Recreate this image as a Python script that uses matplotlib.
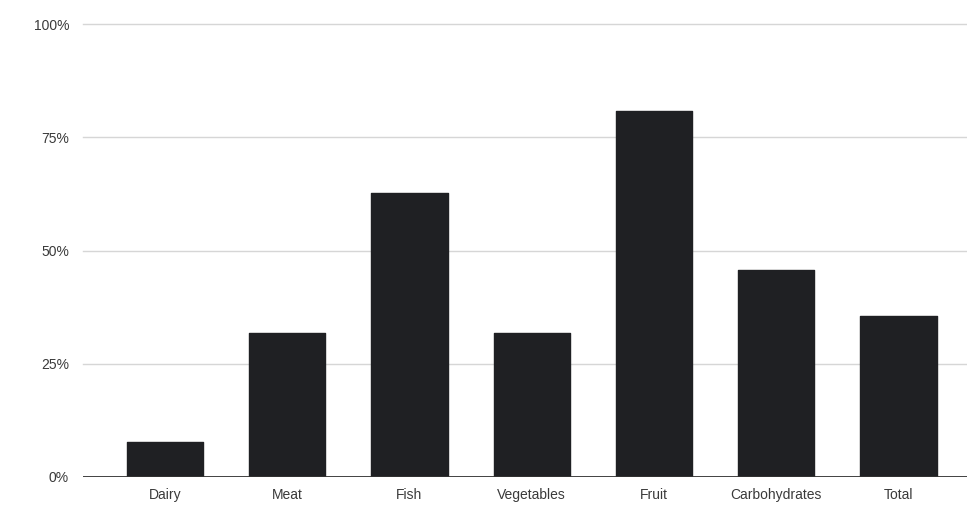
import matplotlib
matplotlib.use("Agg")
import matplotlib.pyplot as plt
from matplotlib.ticker import FuncFormatter

categories = ["Dairy", "Meat", "Fish", "Vegetables", "Fruit", "Carbohydrates", "Total"]
values = [7.7, 31.8, 62.7, 31.8, 80.8, 45.7, 35.5]
yticks = [0, 25, 50, 75, 100]

plt.rcParams['font.family'] = ['Liberation Sans', 'DejaVu Sans']

fig = plt.figure(figsize=(9.67, 5.09), dpi=100)
ax = fig.add_axes([83/967, 32/509, 1 - 83/967, (477-24)/509])

x = list(range(len(categories)))
ax.bar(x, values, width=0.625, color='#1f2023', edgecolor='#1f2023',
       linewidth=1.0, joinstyle='round', zorder=3)

ax.set_xlim(-0.67, 6.56)
ax.set_ylim(0, 100)
ax.set_yticks(yticks)
ax.yaxis.set_major_formatter(FuncFormatter(lambda v, p: f"{int(v)}%"))
ax.set_xticks(x)
ax.set_xticklabels(categories)

for t in yticks[1:]:
    ax.axhline(t, color='#d6d6d6', linewidth=1.0, zorder=1, clip_on=False)
ax.axhline(0, color='#333333', linewidth=1.3, zorder=4)

for s in ax.spines.values():
    s.set_visible(False)
ax.tick_params(axis='both', length=0, labelsize=10, colors='#3a3a3a')
ax.tick_params(axis='y', pad=10)
ax.tick_params(axis='x', pad=8)

fig.savefig("out.png", dpi=100, facecolor='white')
